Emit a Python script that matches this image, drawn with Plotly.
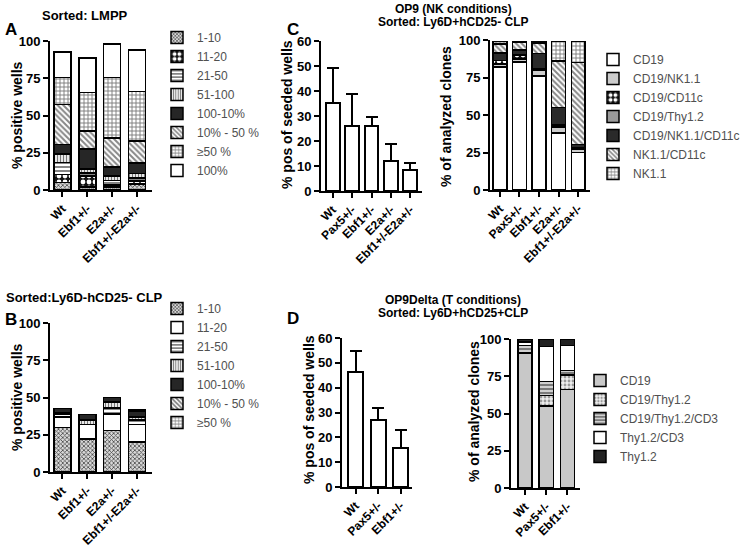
import plotly.graph_objects as go

W, H = 745, 548
FONT = "Liberation Sans, Arial, sans-serif"


def px(x):
    return x / W


def py(y):
    return 1 - y / H


# ---------------- Panel A: Sorted LMPP ----------------
a_groups = ["Wt", "Ebf1+/-", "E2a+/-", "Ebf1+/-E2a+/-"]
a_series = ["1-10", "11-20", "21-50", "51-100", "100-10%", "10% - 50 %", "≥50 %", "100%"]
a_1_10 = [5, 2, 2, 4]
a_11_20 = [5.5, 7.5, 1.5, 2]
a_21_50 = [8, 2, 3, 2]
a_51_100 = [5.5, 2.5, 3, 3]
a_100_10p = [6.5, 13.5, 6, 7]
a_10_50p = [27, 12, 19.5, 15]
a_ge50p = [18, 26, 40.5, 33]
a_100p = [17, 23, 22.5, 28]
a_values = [a_1_10, a_11_20, a_21_50, a_51_100, a_100_10p, a_10_50p, a_ge50p, a_100p]

# ---------------- Panel B: Sorted Ly6D-hCD25- CLP ----------------
b_groups = ["Wt", "Ebf1+/-", "E2a+/-", "Ebf1+/-E2a+/-"]
b_series = ["1-10", "11-20", "21-50", "51-100", "100-10%", "10% - 50 %", "≥50 %"]
b_1_10 = [30, 22, 28, 20]
b_11_20 = [7, 10, 11, 12]
b_21_50 = [2, 0, 4, 3]
b_51_100 = [1, 3, 4, 2]
b_100_10p = [2.5, 3.5, 3, 4]
b_10_50p = [0, 0, 0, 1]
b_ge50p = [0, 0, 0, 0]
b_values = [b_1_10, b_11_20, b_21_50, b_51_100, b_100_10p, b_10_50p, b_ge50p]

# ---------------- Panel C: OP9 (NK conditions) ----------------
c_groups = ["Wt", "Pax5+/-", "Ebf1+/-", "E2a+/-", "Ebf1+/-E2a+/-"]
c_pos_mean = [35.2, 25.9, 25.9, 12.0, 8.5]
c_pos_err = [14.0, 12.8, 3.7, 6.7, 2.7]
c_series = ["CD19", "CD19/NK1.1", "CD19/CD11c", "CD19/Thy1.2",
            "CD19/NK1.1/CD11c", "NK1.1/CD11c", "NK1.1"]
c_cd19 = [82, 85.5, 76, 38, 25]
c_cd19_nk = [2, 2, 4, 4, 2]
c_cd19_cd11c = [2.5, 2.5, 0, 0, 0]
c_cd19_thy = [0, 0, 1, 1.5, 1]
c_cd19_nk_cd11c = [5, 3.5, 10, 11.5, 2.5]
c_nk_cd11c = [6, 5, 7, 31, 54.5]
c_nk = [1.5, 0.5, 1, 13, 14]
c_values = [c_cd19, c_cd19_nk, c_cd19_cd11c, c_cd19_thy, c_cd19_nk_cd11c, c_nk_cd11c, c_nk]

# ---------------- Panel D: OP9Delta (T conditions) ----------------
d_groups = ["Wt", "Pax5+/-", "Ebf1+/-"]
d_pos_mean = [46.2, 26.8, 15.7]
d_pos_err = [8.4, 5.2, 7.1]
d_series = ["CD19", "CD19/Thy1.2", "CD19/Thy1.2/CD3", "Thy1.2/CD3", "Thy1.2"]
d_cd19 = [90.5, 55, 66]
d_cd19_thy = [0.5, 7, 10]
d_cd19_thy_cd3 = [4.5, 9.5, 3]
d_thy_cd3 = [2.5, 23.5, 16.5]
d_thy = [2, 5, 4.5]
d_values = [d_cd19, d_cd19_thy, d_cd19_thy_cd3, d_thy_cd3, d_thy]


# ---------------- styles ----------------
def pat(color, shape="", fg="#000", size=4, solidity=0.4):
    m = dict(color=color, line=dict(color="black", width=1.5))
    if shape:
        m["pattern"] = dict(shape=shape, fgcolor=fg, bgcolor=color, size=size,
                            solidity=solidity, fillmode="replace")
    return m


a_styles = [
    pat("#d9d9d9", "x", "#444", 3, 0.45),
    pat("#111111", ".", "#ffffff", 6, 0.5),
    pat("#ffffff", "-", "#777", 4, 0.45),
    pat("#ffffff", "|", "#777", 3, 0.45),
    pat("#262626"),
    pat("#ffffff", "\\", "#888", 4, 0.5),
    pat("#ffffff", "+", "#777", 4, 0.4),
    pat("#ffffff"),
]
b_styles = [
    pat("#d9d9d9", "x", "#444", 3, 0.45),
    pat("#ffffff"),
    pat("#ffffff", "-", "#777", 4, 0.45),
    pat("#ffffff", "|", "#777", 3, 0.45),
    pat("#262626"),
    pat("#ffffff", "\\", "#777", 4, 0.5),
    pat("#ffffff", "+", "#777", 4, 0.4),
]
c_styles = [
    pat("#ffffff"),
    pat("#cccccc"),
    pat("#111111", ".", "#ffffff", 6, 0.5),
    pat("#9a9a9a"),
    pat("#2a2a2a"),
    pat("#ffffff", "\\", "#888", 4, 0.5),
    pat("#ffffff", "+", "#777", 4, 0.4),
]
d_styles = [
    pat("#c8c8c8"),
    pat("#eeeeee", ".", "#999", 4, 0.4),
    pat("#d0d0d0", "-", "#555", 4, 0.35),
    pat("#ffffff"),
    pat("#222222"),
]

fig = go.Figure()

for name, vals, st in zip(a_series, a_values, a_styles):
    fig.add_trace(go.Bar(x=a_groups, y=vals, name=name, marker=st, width=0.68,
                         xaxis="x", yaxis="y", legend="legend"))
for name, vals, st in zip(b_series, b_values, b_styles):
    fig.add_trace(go.Bar(x=b_groups, y=vals, name=name, marker=st, width=0.68,
                         xaxis="x2", yaxis="y2", legend="legend2"))
fig.add_trace(go.Bar(x=c_groups, y=c_pos_mean, showlegend=False, width=0.72,
                     marker=dict(color="white", line=dict(color="black", width=2)),
                     error_y=dict(type="data", symmetric=False, array=c_pos_err,
                                  arrayminus=[0] * len(c_pos_err), color="black",
                                  thickness=2, width=6),
                     xaxis="x3", yaxis="y3"))
for name, vals, st in zip(c_series, c_values, c_styles):
    fig.add_trace(go.Bar(x=c_groups, y=vals, name=name, marker=st, width=0.71,
                         xaxis="x4", yaxis="y4", legend="legend3"))
fig.add_trace(go.Bar(x=d_groups, y=d_pos_mean, showlegend=False, width=0.67,
                     marker=dict(color="white", line=dict(color="black", width=2)),
                     error_y=dict(type="data", symmetric=False, array=d_pos_err,
                                  arrayminus=[0] * len(d_pos_err), color="black",
                                  thickness=2, width=6),
                     xaxis="x5", yaxis="y5"))
for name, vals, st in zip(d_series, d_values, d_styles):
    fig.add_trace(go.Bar(x=d_groups, y=vals, name=name, marker=st, width=0.68,
                         xaxis="x6", yaxis="y6", legend="legend4"))

tickfont = dict(family=FONT, size=13, color="black", weight="bold")
xtickfont = dict(family=FONT, size=12, color="black", weight="bold")


def xax(x0, x1, rng, anchor):
    return dict(domain=[px(x0), px(x1)], range=rng, anchor=anchor, type="category",
                showline=True, linecolor="black", linewidth=2, ticks="outside",
                ticklen=5, tickwidth=2, tickcolor="black", showgrid=False,
                zeroline=False, tickangle=-45, tickfont=xtickfont, fixedrange=True,
                automargin=False)


def yax(y_top, y_bot, rng, dtick, anchor):
    return dict(domain=[py(y_bot), py(y_top)], range=rng, anchor=anchor,
                showline=True, linecolor="black", linewidth=2, ticks="outside",
                ticklen=5, tickwidth=2, tickcolor="black", showgrid=False,
                zeroline=False, dtick=dtick, tick0=0, tickfont=tickfont, fixedrange=True,
                automargin=False)


def leg(x, y, size):
    return dict(x=px(x), y=py(y), xanchor="left", yanchor="top", bgcolor="rgba(0,0,0,0)",
                font=dict(family=FONT, size=size, color="#505050"), traceorder="normal",
                itemwidth=30, tracegroupgap=0, itemclick=False, itemdoubleclick=False)


fig.update_layout(
    width=W, height=H, margin=dict(l=0, r=0, t=0, b=0, pad=0, autoexpand=False),
    paper_bgcolor="white", plot_bgcolor="white", barmode="stack",
    showlegend=True,
    font=dict(family=FONT, color="black"),
    xaxis=xax(50, 152, [-0.5, 3.6], "y"),
    yaxis=yax(41, 190, [0, 100], 25, "x"),
    xaxis2=xax(50, 152, [-0.5, 3.6], "y2"),
    yaxis2=yax(323, 472, [0, 100], 25, "x2"),
    xaxis3=xax(321, 422, [-0.6, 4.6], "y3"),
    yaxis3=yax(41, 191, [0, 60], 10, "x3"),
    xaxis4=xax(490, 590, [-0.5, 4.6], "y4"),
    yaxis4=yax(40, 190, [0, 100], 25, "x4"),
    xaxis5=xax(342, 412, [-0.6, 2.5], "y5"),
    yaxis5=yax(338, 487, [0, 60], 10, "x5"),
    xaxis6=xax(511, 580, [-0.66, 2.59], "y6"),
    yaxis6=yax(339, 488, [0, 100], 25, "x6"),
    legend=leg(157, 23, 12),
    legend2=leg(157, 294, 12),
    legend3=leg(593, 45, 12),
    legend4=leg(580, 366, 12),
)

ann = []


def text(x, y, s, size=12, angle=0, xanchor="center", color="black", bold=True):
    ann.append(dict(x=px(x), y=py(y), xref="paper", yref="paper", text=s, showarrow=False,
                    textangle=angle, xanchor=xanchor, yanchor="middle",
                    font=dict(family=FONT, size=size, color=color,
                              weight="bold" if bold else "normal")))


text(3, 29, "A", 17, xanchor="left")
text(85, 16, "Sorted: LMPP", 13)
text(17, 115, "% positive wells", 14, angle=-90)
text(3, 319, "B", 17, xanchor="left")
text(84, 297, "Sorted:Ly6D-hCD25- CLP", 13)
text(17, 397, "% positive wells", 14, angle=-90)
text(285, 30, "C", 17, xanchor="left")
text(453, 9, "OP9 (NK conditions)", 12)
text(453, 22, "Sorted: Ly6D+hCD25- CLP", 12)
text(287, 115, "% pos of seeded wells", 14, angle=-90)
text(446, 117, "% of analyzed clones", 14, angle=-90)
text(285, 318, "D", 17, xanchor="left")
text(453, 300, "OP9Delta (T conditions)", 12)
text(453, 313, "Sorted: Ly6D+hCD25+CLP", 12)
text(309, 410, "% pos of seeded wells", 14, angle=-90)
text(474, 412, "% of analyzed clones", 14, angle=-90)

fig.update_layout(annotations=ann)
fig.write_html(
    "out.html",
    config={"displayModeBar": False},
    post_script="document.body.style.margin='0';document.body.style.padding='0';"
                "document.documentElement.style.overflow='hidden';",
)
